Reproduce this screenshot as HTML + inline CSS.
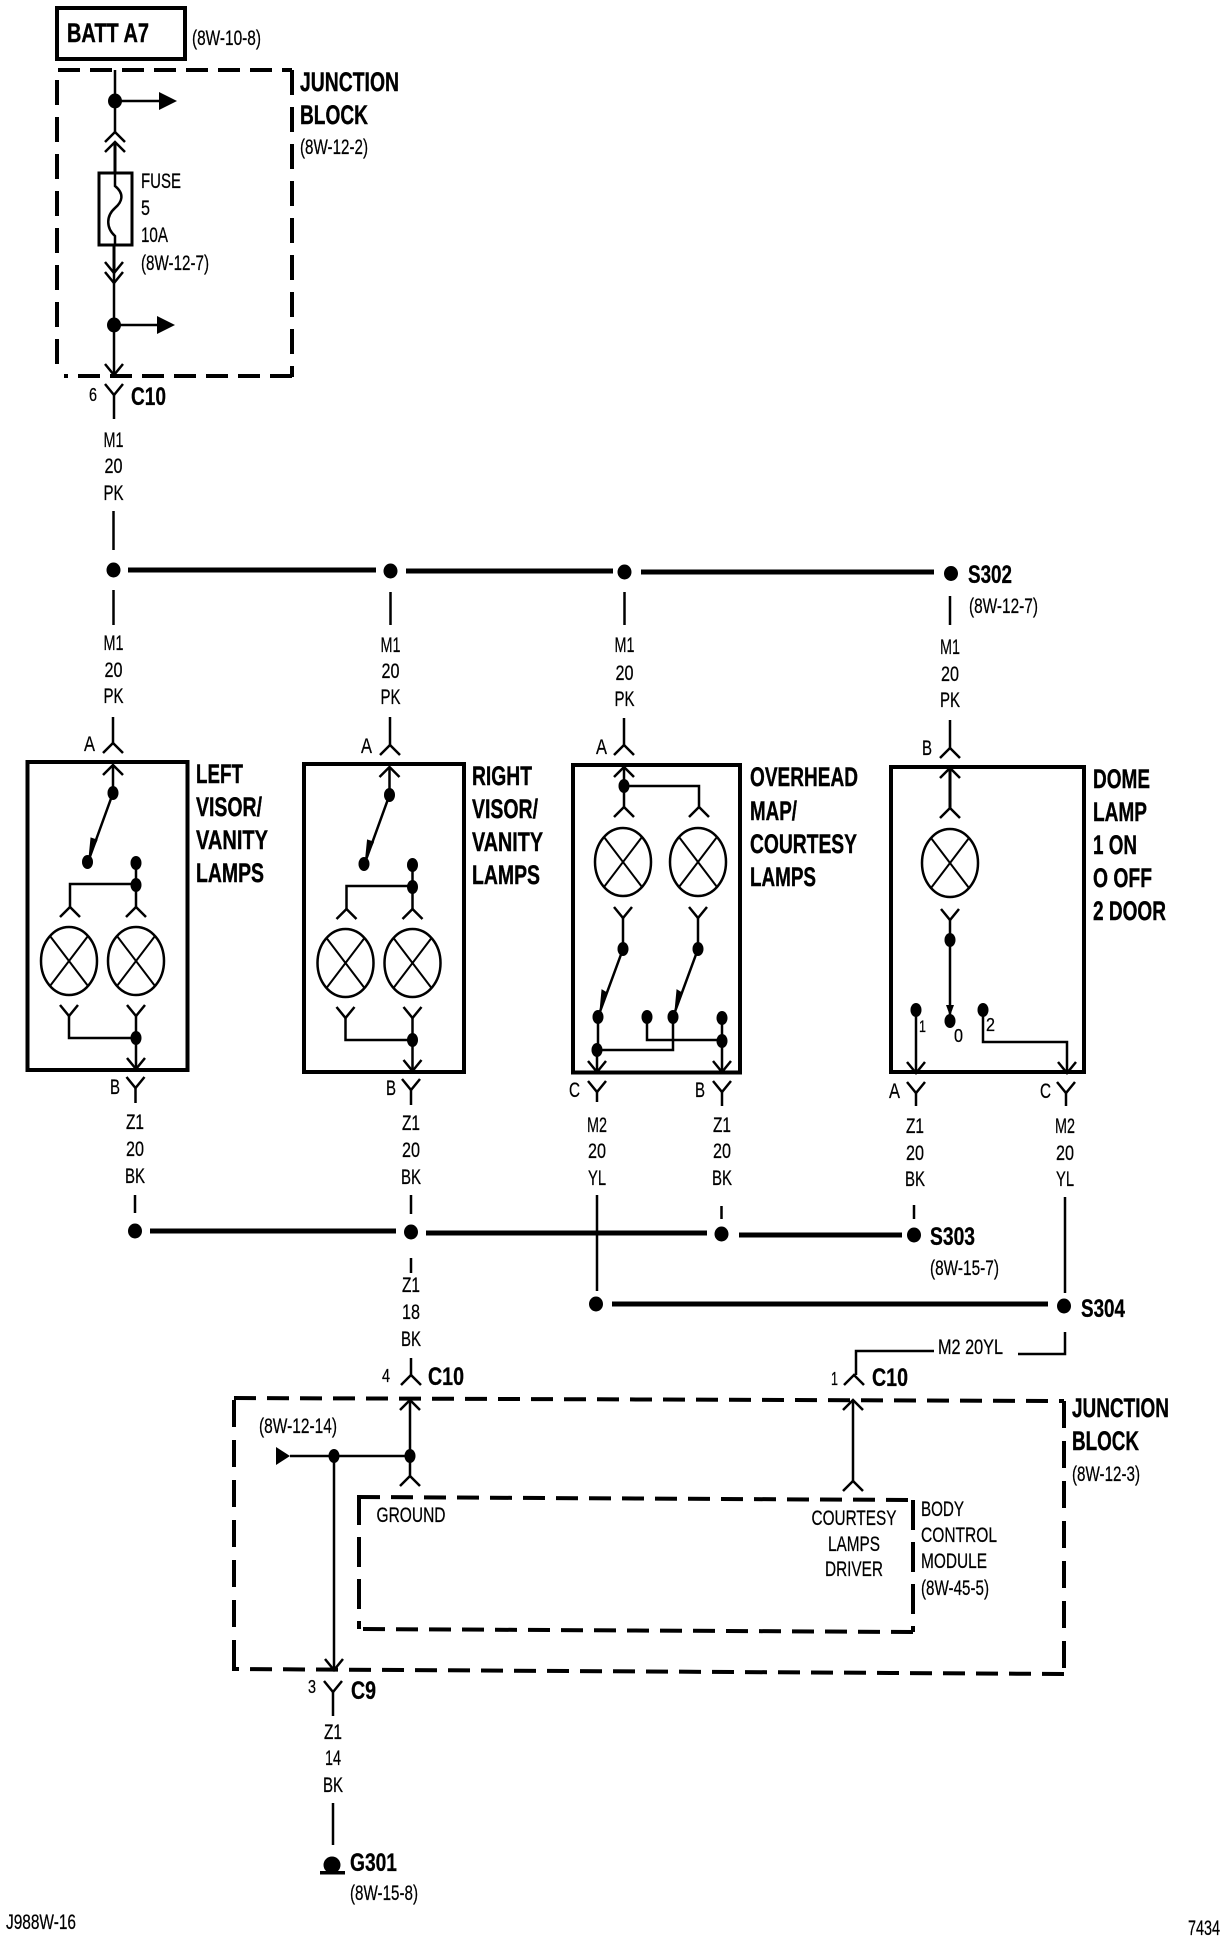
<!DOCTYPE html>
<html><head><meta charset="utf-8"><style>
html,body{margin:0;padding:0;background:#fff}
svg{display:block}
text{fill:#000;font-family:"Liberation Sans",sans-serif}
.r{font-size:21px;stroke:#000;stroke-width:.25}
.b{font-size:27px;font-weight:bold;stroke:#000;stroke-width:.4}
.c{font-size:25px;font-weight:bold;stroke:#000;stroke-width:.3}
.m{text-anchor:middle}
.l{fill:none;stroke:#000;stroke-width:2.5}
.t{fill:none;stroke:#000;stroke-width:2}
.h{fill:none;stroke:#000;stroke-width:4}
.d{fill:none;stroke:#000;stroke-width:4}
.bus{fill:none;stroke:#000;stroke-width:5}
</style></head><body>
<svg xmlns="http://www.w3.org/2000/svg" xmlns:xlink="http://www.w3.org/1999/xlink" width="1232" height="1942" viewBox="0 0 1232 1942">
<defs>
<path id="yd" class="l" d="M-9-11L0 0L9-11"/>
<path id="ya" class="l" d="M-10 10L0 0L10 10"/>
<g id="lamp"><ellipse class="l" rx="28" ry="34"/><path class="t" d="M-19-25L19 25M19-25L-19 25"/></g>
<ellipse id="n" rx="5.5" ry="7"/>
<ellipse id="N" rx="7" ry="7.5"/>
<g id="box">
<rect class="h" x="27.5" y="762" width="160" height="308"/>
<path class="l" d="M113 765V793L88 862"/>
<use xlink:href="#ya" x="113" y="765"/>
<use xlink:href="#n" x="113" y="793"/><use xlink:href="#n" x="87.5" y="862"/>
<path d="M97 840L89 858L91 838Z" stroke="#000"/>
<use xlink:href="#n" x="136" y="863"/><use xlink:href="#n" x="136" y="885"/>
<path class="l" d="M136 863V907M136 884H70V907"/>
<use xlink:href="#ya" x="70" y="907"/><use xlink:href="#ya" x="136" y="907"/>
<use xlink:href="#lamp" x="69" y="961"/><use xlink:href="#lamp" x="136" y="961"/>
<use xlink:href="#yd" x="69" y="1016"/><use xlink:href="#yd" x="136" y="1016"/>
<path class="l" d="M69 1016V1038H136M136 1016V1067"/>
<use xlink:href="#n" x="136" y="1038"/>
<use xlink:href="#yd" x="136" y="1069"/>
</g>
</defs>

<!-- top -->
<rect x="57" y="8" width="128" height="51" class="h"/>
<text class="b" x="67" y="42" textLength="82" lengthAdjust="spacingAndGlyphs">BATT A7</text>
<text class="r" x="192" y="45" textLength="69" lengthAdjust="spacingAndGlyphs">(8W-10-8)</text>
<path class="d" stroke-dasharray="22 10" d="M58 70H292"/>
<path class="d" stroke-dasharray="25 12" d="M292 70V377"/>
<path class="d" stroke-dasharray="22 10" d="M292 376H64"/>
<path class="d" stroke-dasharray="25 12" d="M57 80V375"/>
<text class="b" x="300" y="91" textLength="99" lengthAdjust="spacingAndGlyphs">JUNCTION</text>
<text class="b" x="300" y="124" textLength="68" lengthAdjust="spacingAndGlyphs">BLOCK</text>
<text class="r" x="300" y="154" textLength="68" lengthAdjust="spacingAndGlyphs">(8W-12-2)</text>
<path class="l" d="M115 70V132M114 273V375"/>
<path class="l" style="stroke-width:3" d="M115 142V173M114 245V273"/>
<use xlink:href="#N" x="115" y="101"/><use xlink:href="#N" x="114" y="325"/>
<path class="l" d="M115 101H160M114 325H158"/>
<path d="M159 92L177 101L159 110ZM157 316L175 325L157 334Z"/>
<use xlink:href="#ya" x="115" y="132"/><use xlink:href="#ya" x="115" y="142"/>
<use xlink:href="#yd" x="114" y="273"/><use xlink:href="#yd" x="114" y="283"/>
<use xlink:href="#yd" x="114" y="375"/>
<rect class="l" style="stroke-width:3" x="99" y="173" width="33" height="72"/>
<path class="l" d="M115 173V186C125 194 122 202 115 208C106 216 106 228 115 236V245"/>
<text class="r" x="141" y="188" textLength="40" lengthAdjust="spacingAndGlyphs">FUSE</text>
<text class="r" x="141" y="215" textLength="9" lengthAdjust="spacingAndGlyphs">5</text>
<text class="r" x="141" y="242" textLength="27" lengthAdjust="spacingAndGlyphs">10A</text>
<text class="r" x="141" y="270" textLength="68" lengthAdjust="spacingAndGlyphs">(8W-12-7)</text>
<use xlink:href="#yd" x="114" y="395"/><path class="l" d="M114 395V419"/>
<text class="r" x="89" y="401" style="font-size:18px" textLength="8" lengthAdjust="spacingAndGlyphs">6</text>
<text class="c" x="131" y="405" textLength="35" lengthAdjust="spacingAndGlyphs">C10</text>
<text class="r m" x="113.5" y="447" textLength="20" lengthAdjust="spacingAndGlyphs">M1</text>
<text class="r m" x="113.5" y="473" textLength="18" lengthAdjust="spacingAndGlyphs">20</text>
<text class="r m" x="113.5" y="500" textLength="20" lengthAdjust="spacingAndGlyphs">PK</text>
<path class="l" d="M113.5 511V550"/>

<!-- S302 bus -->
<path class="bus" d="M128 570H376M406 571H613M641 572H934"/>
<use xlink:href="#N" x="113.5" y="570"/><use xlink:href="#N" x="390.5" y="571"/><use xlink:href="#N" x="624.5" y="572"/><use xlink:href="#N" x="951" y="573.5"/>
<text class="c" x="968" y="583" textLength="44" lengthAdjust="spacingAndGlyphs">S302</text>
<text class="r" x="969" y="613" textLength="69" lengthAdjust="spacingAndGlyphs">(8W-12-7)</text>
<path class="l" d="M113.5 590V625M390.5 592V625M624.5 592V625M950 596V625"/>

<text class="r m" x="113.5" y="650" textLength="20" lengthAdjust="spacingAndGlyphs">M1</text>
<text class="r m" x="113.5" y="677" textLength="18" lengthAdjust="spacingAndGlyphs">20</text>
<text class="r m" x="113.5" y="703" textLength="20" lengthAdjust="spacingAndGlyphs">PK</text>
<text class="r m" x="390.5" y="652" textLength="20" lengthAdjust="spacingAndGlyphs">M1</text>
<text class="r m" x="390.5" y="678" textLength="18" lengthAdjust="spacingAndGlyphs">20</text>
<text class="r m" x="390.5" y="704" textLength="20" lengthAdjust="spacingAndGlyphs">PK</text>
<text class="r m" x="624.5" y="652" textLength="20" lengthAdjust="spacingAndGlyphs">M1</text>
<text class="r m" x="624.5" y="680" textLength="18" lengthAdjust="spacingAndGlyphs">20</text>
<text class="r m" x="624.5" y="706" textLength="20" lengthAdjust="spacingAndGlyphs">PK</text>
<text class="r m" x="950" y="654" textLength="20" lengthAdjust="spacingAndGlyphs">M1</text>
<text class="r m" x="950" y="681" textLength="18" lengthAdjust="spacingAndGlyphs">20</text>
<text class="r m" x="950" y="707" textLength="20" lengthAdjust="spacingAndGlyphs">PK</text>
<path class="l" d="M113 717V743M390 717V745M624 718V745M950 720V748"/>

<!-- left / right boxes -->
<use xlink:href="#ya" x="113" y="743"/>
<text class="r" x="84" y="751" textLength="11" lengthAdjust="spacingAndGlyphs">A</text>
<use xlink:href="#box"/>
<text class="b" x="196" y="783" textLength="47" lengthAdjust="spacingAndGlyphs">LEFT</text>
<text class="b" x="196" y="816" textLength="66" lengthAdjust="spacingAndGlyphs">VISOR/</text>
<text class="b" x="196" y="849" textLength="72" lengthAdjust="spacingAndGlyphs">VANITY</text>
<text class="b" x="196" y="882" textLength="68" lengthAdjust="spacingAndGlyphs">LAMPS</text>
<text class="r" x="110" y="1094" textLength="10" lengthAdjust="spacingAndGlyphs">B</text>
<use xlink:href="#yd" x="135.5" y="1088"/><path class="l" d="M135.5 1088V1103"/>
<text class="r m" x="135" y="1129" textLength="18" lengthAdjust="spacingAndGlyphs">Z1</text>
<text class="r m" x="135" y="1156" textLength="18" lengthAdjust="spacingAndGlyphs">20</text>
<text class="r m" x="135" y="1183" textLength="20" lengthAdjust="spacingAndGlyphs">BK</text>

<use xlink:href="#ya" x="390" y="745"/>
<text class="r" x="361" y="753" textLength="11" lengthAdjust="spacingAndGlyphs">A</text>
<use xlink:href="#box" x="276.5" y="2"/>
<text class="b" x="472" y="785" textLength="60" lengthAdjust="spacingAndGlyphs">RIGHT</text>
<text class="b" x="472" y="818" textLength="66" lengthAdjust="spacingAndGlyphs">VISOR/</text>
<text class="b" x="472" y="851" textLength="71" lengthAdjust="spacingAndGlyphs">VANITY</text>
<text class="b" x="472" y="884" textLength="68" lengthAdjust="spacingAndGlyphs">LAMPS</text>
<text class="r" x="386" y="1095" textLength="10" lengthAdjust="spacingAndGlyphs">B</text>
<use xlink:href="#yd" x="411" y="1090"/><path class="l" d="M411 1090V1105"/>
<text class="r m" x="411" y="1130" textLength="18" lengthAdjust="spacingAndGlyphs">Z1</text>
<text class="r m" x="411" y="1157" textLength="18" lengthAdjust="spacingAndGlyphs">20</text>
<text class="r m" x="411" y="1184" textLength="20" lengthAdjust="spacingAndGlyphs">BK</text>

<!-- overhead box -->
<g transform="translate(3,0)">
<use xlink:href="#ya" x="621" y="745"/>
<text class="r" x="593" y="754" textLength="11" lengthAdjust="spacingAndGlyphs">A</text>
<rect class="h" x="570" y="765" width="167" height="307.5"/>
<use xlink:href="#ya" x="621" y="767"/>
<path class="l" d="M621 767V807M621 786H696V807"/>
<use xlink:href="#n" x="621" y="786"/>
<use xlink:href="#ya" x="621" y="807"/><use xlink:href="#ya" x="696" y="807"/>
<use xlink:href="#lamp" x="620" y="862"/><use xlink:href="#lamp" x="695" y="862"/>
<use xlink:href="#yd" x="620" y="918"/><use xlink:href="#yd" x="695" y="918"/>
<path class="l" d="M620 918V949L595 1017V1050M695 918V949L670 1017V1050H594M594 1050V1071M644 1017V1040H719M719 1018V1071"/>
<path d="M604 993L597 1011L599 990ZM679 993L672 1011L674 990Z" stroke="#000"/>
<use xlink:href="#n" x="620" y="949"/><use xlink:href="#n" x="695" y="949"/>
<use xlink:href="#n" x="595" y="1017"/><use xlink:href="#n" x="670" y="1017"/><use xlink:href="#n" x="644" y="1017"/><use xlink:href="#n" x="719" y="1018"/>
<use xlink:href="#n" x="719" y="1041"/><use xlink:href="#n" x="594" y="1050"/>
<use xlink:href="#yd" x="594" y="1072"/><use xlink:href="#yd" x="719" y="1072"/>
<text class="b" x="747" y="786" textLength="108" lengthAdjust="spacingAndGlyphs">OVERHEAD</text>
<text class="b" x="747" y="820" textLength="47" lengthAdjust="spacingAndGlyphs">MAP/</text>
<text class="b" x="747" y="853" textLength="107" lengthAdjust="spacingAndGlyphs">COURTESY</text>
<text class="b" x="747" y="886" textLength="66" lengthAdjust="spacingAndGlyphs">LAMPS</text>
<text class="r" x="566" y="1097" textLength="11" lengthAdjust="spacingAndGlyphs">C</text>
<use xlink:href="#yd" x="594" y="1092"/><path class="l" d="M594 1092V1102"/>
<text class="r" x="692" y="1097" textLength="10" lengthAdjust="spacingAndGlyphs">B</text>
<use xlink:href="#yd" x="719" y="1092"/><path class="l" d="M719 1092V1106"/>
<text class="r m" x="594" y="1132" textLength="20" lengthAdjust="spacingAndGlyphs">M2</text>
<text class="r m" x="594" y="1158" textLength="18" lengthAdjust="spacingAndGlyphs">20</text>
<text class="r m" x="594" y="1185" textLength="18" lengthAdjust="spacingAndGlyphs">YL</text>
<text class="r m" x="719" y="1132" textLength="18" lengthAdjust="spacingAndGlyphs">Z1</text>
<text class="r m" x="719" y="1158" textLength="18" lengthAdjust="spacingAndGlyphs">20</text>
<text class="r m" x="719" y="1185" textLength="20" lengthAdjust="spacingAndGlyphs">BK</text>
</g>

<!-- dome box -->
<g transform="translate(5,0)">
<use xlink:href="#ya" x="945" y="748"/>
<text class="r" x="917" y="755" textLength="10" lengthAdjust="spacingAndGlyphs">B</text>
<rect class="h" x="886" y="767" width="193" height="305"/>
<use xlink:href="#ya" x="945" y="768"/>
<path class="l" style="stroke-width:3" d="M945 768V808"/>
<use xlink:href="#ya" x="945" y="808"/>
<use xlink:href="#lamp" x="945" y="863"/>
<use xlink:href="#yd" x="945" y="920"/>
<path class="l" d="M945 920V1019"/>
<path d="M941 1005H949L945 1016Z"/>
<use xlink:href="#n" x="945" y="940"/><use xlink:href="#n" x="945" y="1021"/>
<text class="r" x="949" y="1042" style="font-size:18px" textLength="9" lengthAdjust="spacingAndGlyphs">0</text>
<use xlink:href="#n" x="911" y="1010"/>
<path class="l" d="M911 1010V1072"/>
<use xlink:href="#yd" x="911" y="1073"/>
<text class="r" x="914" y="1032" style="font-size:17px" textLength="7" lengthAdjust="spacingAndGlyphs">1</text>
<use xlink:href="#n" x="978" y="1010"/>
<text class="r" x="981" y="1031" style="font-size:18px" textLength="9" lengthAdjust="spacingAndGlyphs">2</text>
<path class="l" d="M978 1010V1042H1062V1072"/>
<use xlink:href="#yd" x="1062" y="1073"/>
<text class="b" x="1088" y="788" textLength="57" lengthAdjust="spacingAndGlyphs">DOME</text>
<text class="b" x="1088" y="821" textLength="54" lengthAdjust="spacingAndGlyphs">LAMP</text>
<text class="b" x="1088" y="854" textLength="44" lengthAdjust="spacingAndGlyphs">1 ON</text>
<text class="b" x="1088" y="887" textLength="59" lengthAdjust="spacingAndGlyphs">O OFF</text>
<text class="b" x="1088" y="920" textLength="73" lengthAdjust="spacingAndGlyphs">2 DOOR</text>
<text class="r" x="884" y="1098" textLength="11" lengthAdjust="spacingAndGlyphs">A</text>
<use xlink:href="#yd" x="911" y="1093"/><path class="l" d="M911 1093V1106"/>
<text class="r" x="1035" y="1098" textLength="11" lengthAdjust="spacingAndGlyphs">C</text>
<use xlink:href="#yd" x="1061" y="1093"/><path class="l" d="M1061 1093V1106"/>
<text class="r m" x="910" y="1133" textLength="18" lengthAdjust="spacingAndGlyphs">Z1</text>
<text class="r m" x="910" y="1160" textLength="18" lengthAdjust="spacingAndGlyphs">20</text>
<text class="r m" x="910" y="1186" textLength="20" lengthAdjust="spacingAndGlyphs">BK</text>
<text class="r m" x="1060" y="1133" textLength="20" lengthAdjust="spacingAndGlyphs">M2</text>
<text class="r m" x="1060" y="1160" textLength="18" lengthAdjust="spacingAndGlyphs">20</text>
<text class="r m" x="1060" y="1186" textLength="18" lengthAdjust="spacingAndGlyphs">YL</text>
</g>

<!-- S303 bus -->
<path class="l" d="M135 1195V1213M411 1195V1214M721.5 1206V1219M914 1205V1219M597 1195V1291M1065 1197V1293M1065 1332V1354H1018M934 1351H856V1375M411 1258V1273M411 1358V1375"/>
<path class="bus" d="M150 1231H396M426 1233H707M739 1235H902"/>
<use xlink:href="#N" x="135" y="1231"/><use xlink:href="#N" x="411" y="1232"/><use xlink:href="#N" x="721.5" y="1234"/><use xlink:href="#N" x="914" y="1235"/>
<text class="c" x="930" y="1245" textLength="45" lengthAdjust="spacingAndGlyphs">S303</text>
<text class="r" x="930" y="1275" textLength="69" lengthAdjust="spacingAndGlyphs">(8W-15-7)</text>
<path class="bus" d="M612 1304H1048"/>
<use xlink:href="#N" x="596" y="1304"/><use xlink:href="#N" x="1064" y="1306"/>
<text class="c" x="1081" y="1317" textLength="44" lengthAdjust="spacingAndGlyphs">S304</text>
<text class="r" x="938" y="1354" textLength="65" lengthAdjust="spacingAndGlyphs">M2 20YL</text>

<!-- C10 row -->
<text class="r m" x="411" y="1292" textLength="18" lengthAdjust="spacingAndGlyphs">Z1</text>
<text class="r m" x="411" y="1319" textLength="18" lengthAdjust="spacingAndGlyphs">18</text>
<text class="r m" x="411" y="1346" textLength="20" lengthAdjust="spacingAndGlyphs">BK</text>
<use xlink:href="#ya" x="411" y="1375"/>
<text class="r" x="382" y="1382" style="font-size:18px" textLength="8" lengthAdjust="spacingAndGlyphs">4</text>
<text class="c" x="428" y="1385" textLength="36" lengthAdjust="spacingAndGlyphs">C10</text>
<use xlink:href="#ya" x="854" y="1375"/>
<text class="r" x="831" y="1385" style="font-size:18px" textLength="7" lengthAdjust="spacingAndGlyphs">1</text>
<text class="c" x="872" y="1386" textLength="36" lengthAdjust="spacingAndGlyphs">C10</text>

<!-- lower junction block -->
<path class="d" stroke-dasharray="22 11" d="M234 1398L1064 1401"/>
<path class="d" stroke-dasharray="27 13" d="M1064 1401V1674"/>
<path class="d" stroke-dasharray="22 11" d="M1064 1674L232 1669"/>
<path class="d" stroke-dasharray="27 13" d="M234 1400V1669"/>
<text class="b" x="1072" y="1417" textLength="97" lengthAdjust="spacingAndGlyphs">JUNCTION</text>
<text class="b" x="1072" y="1450" textLength="67" lengthAdjust="spacingAndGlyphs">BLOCK</text>
<text class="r" x="1072" y="1481" textLength="68" lengthAdjust="spacingAndGlyphs">(8W-12-3)</text>
<use xlink:href="#ya" x="410" y="1400"/>
<path class="l" d="M410 1400V1476M290 1456H410M334 1456V1668"/>
<use xlink:href="#n" x="410" y="1456"/><use xlink:href="#n" x="334" y="1456"/>
<path d="M276 1447L290 1456L276 1465Z"/>
<use xlink:href="#ya" x="410" y="1476"/>
<text class="r" x="259" y="1433" textLength="78" lengthAdjust="spacingAndGlyphs">(8W-12-14)</text>
<use xlink:href="#ya" x="853" y="1400"/>
<path class="l" d="M853 1400V1481"/>
<use xlink:href="#ya" x="853" y="1481"/>
<use xlink:href="#yd" x="334" y="1670"/>
<path class="d" stroke-dasharray="22 11" d="M358 1497L913 1500"/>
<path class="d" stroke-dasharray="30 12" d="M913 1500V1632"/>
<path class="d" stroke-dasharray="22 11" d="M913 1632L358 1629"/>
<path class="d" stroke-dasharray="30 12" d="M359 1495V1629"/>
<text class="r m" x="411" y="1522" textLength="69" lengthAdjust="spacingAndGlyphs">GROUND</text>
<text class="r m" x="854" y="1525" textLength="85" lengthAdjust="spacingAndGlyphs">COURTESY</text>
<text class="r m" x="854" y="1551" textLength="52" lengthAdjust="spacingAndGlyphs">LAMPS</text>
<text class="r m" x="854" y="1576" textLength="58" lengthAdjust="spacingAndGlyphs">DRIVER</text>
<text class="r" x="921" y="1516" textLength="43" lengthAdjust="spacingAndGlyphs">BODY</text>
<text class="r" x="921" y="1542" textLength="76" lengthAdjust="spacingAndGlyphs">CONTROL</text>
<text class="r" x="921" y="1568" textLength="66" lengthAdjust="spacingAndGlyphs">MODULE</text>
<text class="r" x="921" y="1595" textLength="68" lengthAdjust="spacingAndGlyphs">(8W-45-5)</text>

<!-- C9 / G301 -->
<text class="r" x="308" y="1693" style="font-size:18px" textLength="8" lengthAdjust="spacingAndGlyphs">3</text>
<use xlink:href="#yd" x="333" y="1692"/><path class="l" d="M333 1692V1716"/>
<text class="c" x="351" y="1699" textLength="25" lengthAdjust="spacingAndGlyphs">C9</text>
<text class="r m" x="333" y="1739" textLength="18" lengthAdjust="spacingAndGlyphs">Z1</text>
<text class="r m" x="333" y="1765" textLength="16" lengthAdjust="spacingAndGlyphs">14</text>
<text class="r m" x="333" y="1792" textLength="20" lengthAdjust="spacingAndGlyphs">BK</text>
<path class="l" d="M333 1803V1845"/>
<circle cx="332" cy="1865" r="8.5"/>
<rect x="320" y="1871" width="25" height="3.5"/>
<text class="c" x="350" y="1871" textLength="47" lengthAdjust="spacingAndGlyphs">G301</text>
<text class="r" x="350" y="1900" textLength="68" lengthAdjust="spacingAndGlyphs">(8W-15-8)</text>
<text class="r" x="6" y="1929" textLength="70" lengthAdjust="spacingAndGlyphs">J988W-16</text>
<text class="r" x="1188" y="1935" textLength="32" lengthAdjust="spacingAndGlyphs">7434</text>
</svg>
</body></html>
